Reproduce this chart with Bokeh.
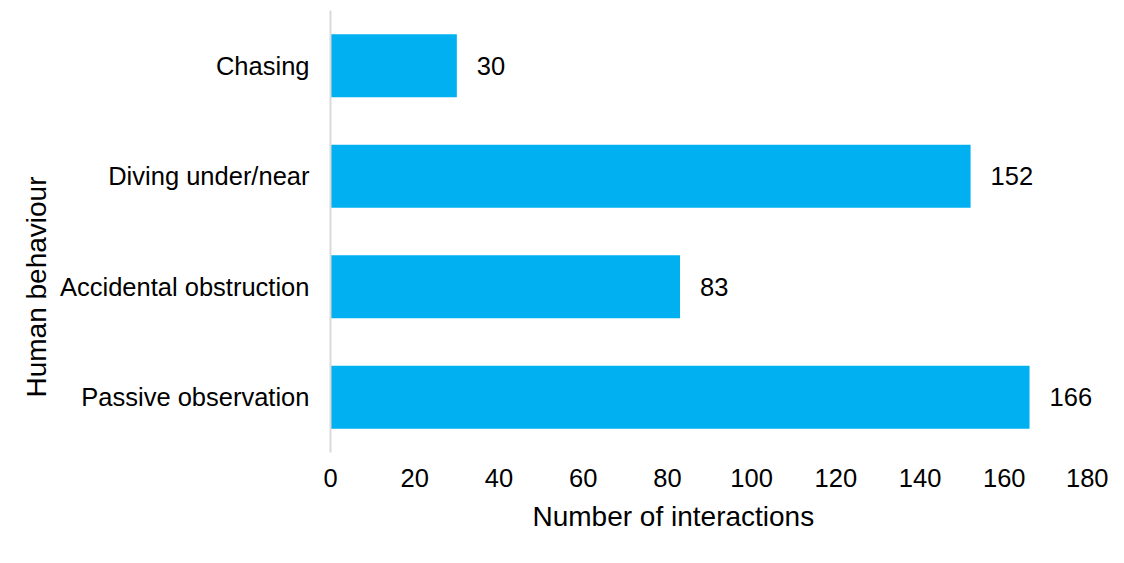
from bokeh.plotting import figure
from bokeh.models import FactorRange, Range1d, ColumnDataSource, FixedTicker, Title
from bokeh.core.properties import value
from bokeh.embed import file_html
from bokeh.resources import INLINE

categories = ["Passive observation", "Accidental obstruction", "Diving under/near", "Chasing"]
counts = [166, 83, 152, 30]
x_ticks = [0, 20, 40, 60, 80, 100, 120, 140, 160, 180]
x_title = "Number of interactions"
y_title = "Human behaviour"

FONT = "Liberation Sans"

source = ColumnDataSource(data=dict(cat=categories, n=counts, lbl=[str(c) for c in counts]))

p = figure(width=1108, height=547, output_backend="svg", toolbar_location=None,
           y_range=FactorRange(factors=categories, range_padding=0),
           x_range=Range1d(0, 184.75),
           min_border_left=330, min_border_right=0, min_border_top=10, min_border_bottom=95)
p.outline_line_color = None
p.grid.visible = False
p.background_fill_color = "white"
p.border_fill_color = "white"

p.hbar(y="cat", right="n", left=0, height=0.57, source=source,
       fill_color="#00B0F0", line_color=None)
p.text(x="n", y="cat", text="lbl", source=source, x_offset=20,
       text_align="left", text_baseline="middle", text_font=value(FONT),
       text_font_size="25.5px", text_color="#000000")

xa = p.xaxis[0]
xa.ticker = FixedTicker(ticks=x_ticks)
xa.axis_line_color = None
xa.major_tick_line_color = None
xa.minor_tick_line_color = None
xa.major_label_text_font = FONT
xa.major_label_text_font_size = "25.5px"
xa.major_label_text_color = "#000000"
xa.major_label_standoff = 10

ya = p.yaxis[0]
ya.axis_line_color = "#D9D9D9"
ya.axis_line_width = 2
ya.major_tick_line_color = None
ya.minor_tick_line_color = None
ya.major_label_text_font = FONT
ya.major_label_text_font_size = "25.5px"
ya.major_label_text_color = "#000000"
ya.major_label_standoff = 15

p.add_layout(Title(text=x_title, align="left", offset=202, standoff=18,
                   text_font=FONT, text_font_size="28px", text_font_style="normal",
                   text_color="#000000"), "below")
p.add_layout(Title(text=y_title, align="left", offset=55, standoff=12,
                   text_font=FONT, text_font_size="28px", text_font_style="normal",
                   text_color="#000000"), "left")

open("out.html", "w").write(file_html(p, INLINE))
